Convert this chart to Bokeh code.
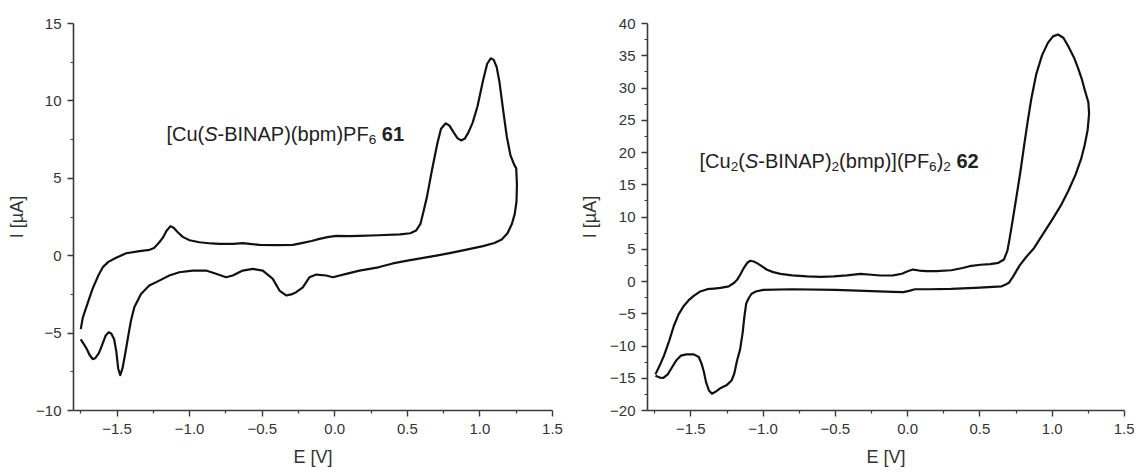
from bokeh.plotting import figure
from bokeh.layouts import row
from bokeh.models import Range1d, FixedTicker, ColumnDataSource
from bokeh.core.properties import value
from bokeh.embed import file_html
from bokeh.resources import INLINE

# ---------------- data ----------------
E61 = [-1.750, -1.736, -1.700, -1.667, -1.630, -1.598, -1.560, -1.510, -1.437, -1.345,
       -1.276, -1.245, -1.210, -1.185, -1.160, -1.132, -1.110, -1.080, -1.045, -1.000,
       -0.933, -0.850, -0.795, -0.700, -0.634, -0.570, -0.519, -0.400, -0.289, -0.220,
       -0.160, -0.105, -0.050, 0.009, 0.100, 0.170, 0.300, 0.450, 0.520, 0.560,
       0.590, 0.610, 0.635, 0.669, 0.707, 0.732, 0.765, 0.790, 0.820, 0.845,
       0.870, 0.895, 0.920, 0.950, 0.983, 1.021, 1.050, 1.075, 1.095, 1.115,
       1.135, 1.160, 1.185, 1.210, 1.235, 1.250,
       1.255, 1.252, 1.240, 1.220, 1.190, 1.150, 1.100, 1.021, 0.900, 0.800,
       0.700, 0.600, 0.500, 0.400, 0.300, 0.170, 0.079, -0.013, -0.059, -0.128,
       -0.174, -0.220, -0.266, -0.300, -0.335, -0.381, -0.427, -0.496, -0.565, -0.634,
       -0.703, -0.749, -0.818, -0.887, -0.979, -1.071, -1.140, -1.209, -1.278, -1.335,
       -1.381, -1.404, -1.425, -1.445, -1.463, -1.478, -1.492, -1.505, -1.520, -1.540,
       -1.558, -1.578, -1.600, -1.625, -1.650, -1.668, -1.690, -1.710, -1.730, -1.750]
I61 = [-4.74, -4.00, -3.00, -2.10, -1.30, -0.74, -0.40, -0.15, 0.16, 0.29,
       0.38, 0.50, 0.85, 1.15, 1.60, 1.91, 1.80, 1.50, 1.20, 1.00,
       0.87, 0.79, 0.76, 0.77, 0.81, 0.75, 0.70, 0.68, 0.70, 0.83,
       0.95, 1.09, 1.20, 1.28, 1.27, 1.28, 1.32, 1.38, 1.45, 1.62,
       2.05, 2.80, 3.80, 5.50, 7.26, 8.20, 8.55, 8.40, 7.95, 7.60,
       7.45, 7.55, 7.95, 8.60, 9.64, 11.30, 12.40, 12.75, 12.65, 12.20,
       11.20, 9.40, 7.70, 6.50, 5.90, 5.64,
       4.60, 3.50, 2.70, 2.05, 1.45, 1.05, 0.82, 0.62, 0.38, 0.18,
       0.00, -0.16, -0.32, -0.50, -0.75, -0.96, -1.17, -1.39, -1.28, -1.22,
       -1.39, -2.04, -2.36, -2.50, -2.57, -2.25, -1.50, -0.96, -0.85, -0.96,
       -1.28, -1.39, -1.17, -0.96, -0.96, -1.07, -1.28, -1.61, -1.93, -2.47,
       -3.33, -4.19, -5.30, -6.40, -7.30, -7.72, -7.30, -6.20, -5.40, -5.02,
       -4.95, -5.15, -5.70, -6.30, -6.62, -6.68, -6.40, -6.00, -5.70, -5.40]

E62 = [-1.745, -1.715, -1.687, -1.650, -1.618, -1.585, -1.549, -1.515, -1.480, -1.440,
       -1.387, -1.340, -1.295, -1.238, -1.200, -1.180, -1.155, -1.134, -1.110, -1.088,
       -1.065, -1.042, -1.005, -0.973, -0.930, -0.880, -0.800, -0.696, -0.600, -0.512,
       -0.420, -0.327, -0.250, -0.189, -0.100, -0.040, 0.000, 0.036, 0.080, 0.128,
       0.200, 0.302, 0.380, 0.428, 0.503, 0.570, 0.628, 0.666, 0.690, 0.704,
       0.730, 0.755, 0.779, 0.805, 0.830, 0.855, 0.890, 0.930, 0.970, 1.005,
       1.040, 1.077, 1.110, 1.153, 1.180, 1.203, 1.225, 1.250,
       1.255, 1.245, 1.225, 1.200, 1.160, 1.110, 1.060, 1.000, 0.940, 0.875,
       0.820, 0.775, 0.730, 0.700, 0.675, 0.650, 0.500, 0.300, 0.150, 0.050,
       0.010, -0.030, -0.100, -0.300, -0.500, -0.800, -1.000, -1.050, -1.080, -1.100,
       -1.117, -1.130, -1.142, -1.160, -1.180, -1.200, -1.217, -1.254, -1.300, -1.330,
       -1.354, -1.375, -1.395, -1.410, -1.425, -1.445, -1.480, -1.530, -1.570, -1.600,
       -1.630, -1.660, -1.690, -1.715, -1.745]
I62 = [-14.4, -13.0, -11.56, -9.2, -6.9, -5.1, -3.79, -2.9, -2.23, -1.6,
       -1.19, -1.1, -1.0, -0.75, -0.2, 0.26, 1.2, 2.08, 2.9, 3.22,
       3.1, 2.85, 2.3, 1.82, 1.45, 1.19, 0.95, 0.78, 0.72, 0.78,
       0.95, 1.19, 1.05, 0.93, 0.95, 1.2, 1.6, 1.85, 1.7, 1.6,
       1.6, 1.74, 2.1, 2.37, 2.6, 2.7, 2.9, 3.4, 4.8, 6.5,
       10.0, 13.5, 16.9, 21.0, 24.8, 28.3, 32.2, 35.1, 37.0, 38.0,
       38.3, 37.8, 36.5, 34.6, 33.0, 31.5, 29.7, 27.8,
       26.0, 23.5, 21.2, 19.0, 16.5, 14.0, 11.8, 9.6, 7.5, 5.2,
       3.8, 2.5, 0.8, -0.2, -0.5, -0.75, -0.95, -1.15, -1.2, -1.2,
       -1.45, -1.65, -1.62, -1.45, -1.3, -1.2, -1.3, -1.55, -1.9, -2.6,
       -3.4, -5.5, -8.0, -10.6, -12.2, -14.3, -15.3, -16.1, -16.6, -17.1,
       -17.4, -16.9, -15.6, -14.0, -12.8, -11.7, -11.3, -11.3, -11.5, -12.2,
       -13.3, -14.4, -14.95, -14.9, -14.6]

x_ticks = [-1.5, -1.0, -0.5, 0.0, 0.5, 1.0, 1.5]
x_tick_labels = ["\u22121.5", "\u22121.0", "\u22120.5", "0.0", "0.5", "1.0", "1.5"]
x_minor = [-1.75, -1.25, -0.75, -0.25, 0.25, 0.75, 1.25]

y61_ticks = [-10, -5, 0, 5, 10, 15]
y61_labels = ["\u221210", "\u22125", "0", "5", "10", "15"]
y61_minor = [-7.5, -2.5, 2.5, 7.5, 12.5]

y62_ticks = [-20, -15, -10, -5, 0, 5, 10, 15, 20, 25, 30, 35, 40]
y62_labels = ["\u221220", "\u221215", "\u221210", "\u22125", "0", "5", "10", "15",
              "20", "25", "30", "35", "40"]
y62_minor = [-17.5, -12.5, -7.5, -2.5, 2.5, 7.5, 12.5, 17.5, 22.5, 27.5, 32.5, 37.5]

label61 = [("[Cu(", "n"), ("S", "i"), ("-BINAP)(bpm)PF", "n"), ("6", "s"), (" ", "n"), ("61", "b")]
label62 = [("[Cu", "n"), ("2", "s"), ("(", "n"), ("S", "i"), ("-BINAP)", "n"), ("2", "s"),
           ("(bmp)](PF", "n"), ("6", "s"), (")", "n"), ("2", "s"), (" ", "n"), ("62", "b")]

FONT = "Liberation Sans"
INK = "#111111"
AX = "#3a3a3a"

# Arial / Liberation Sans advance widths (per 1000 em)
ADV = {'[': 278, ']': 278, '(': 333, ')': 333, '-': 333, ' ': 278, 'C': 722, 'u': 556,
       'S': 667, 'B': 667, 'I': 278, 'N': 722, 'A': 667, 'P': 667, 'b': 556, 'p': 556,
       'm': 833, 'F': 611}
for d in "0123456789":
    ADV[d] = 556


def make_fig(yr, yt, yl, ym, left, frame_w, right, label_standoff):
    p = figure(width=left + frame_w + right, height=472,
               x_range=Range1d(-1.8, 1.5), y_range=Range1d(*yr),
               output_backend="svg", toolbar_location=None,
               min_border_left=left, min_border_right=right,
               min_border_top=23, min_border_bottom=62)
    p.outline_line_color = None
    p.grid.visible = False
    p.background_fill_color = "white"
    p.border_fill_color = "white"
    p.xaxis.ticker = FixedTicker(ticks=x_ticks, minor_ticks=x_minor)
    p.yaxis.ticker = FixedTicker(ticks=yt, minor_ticks=ym)
    p.xaxis.major_label_overrides = {t: s for t, s in zip(x_ticks, x_tick_labels)}
    p.yaxis.major_label_overrides = {t: s for t, s in zip(yt, yl)}
    for ax in (p.xaxis[0], p.yaxis[0]):
        ax.axis_line_color = AX
        ax.axis_line_width = 1.6
        ax.major_tick_line_color = AX
        ax.minor_tick_line_color = AX
        ax.major_tick_line_width = 1.4
        ax.minor_tick_line_width = 1.2
        ax.major_tick_in = 0
        ax.major_tick_out = 6
        ax.minor_tick_in = 0
        ax.minor_tick_out = 3
        ax.major_label_text_font = FONT
        ax.major_label_text_font_size = "15px"
        ax.major_label_text_color = "#333333"
        ax.axis_label_text_font = FONT
        ax.axis_label_text_font_size = "18px"
        ax.axis_label_text_font_style = "normal"
        ax.axis_label_text_color = "#333333"
    p.xaxis.axis_label = "E [V]"
    p.yaxis.axis_label = "I [\u00b5A]"
    p.xaxis.major_label_standoff = 7
    p.yaxis.major_label_standoff = 6
    p.xaxis.axis_label_standoff = 10
    p.yaxis.axis_label_standoff = label_standoff
    return p


def add_label(p, runs, x, y, fs):
    groups = {}
    off = 0.0
    for txt, st in runs:
        size = fs * 0.68 if st == "s" else fs
        yoff = fs * 0.28 if st == "s" else 0.0
        groups.setdefault(st, {"x": [], "y": [], "t": [], "xo": [], "yo": []})
        g = groups[st]
        g["x"].append(x); g["y"].append(y); g["t"].append(txt)
        g["xo"].append(off); g["yo"].append(yoff)
        off += sum(ADV[c] for c in txt) * size / 1000.0
    styles = {"n": "normal", "i": "italic", "b": "bold", "s": "normal"}
    for st, g in groups.items():
        size = fs * 0.68 if st == "s" else fs
        src = ColumnDataSource(dict(x=g["x"], y=g["y"], t=g["t"], xo=g["xo"], yo=g["yo"]))
        p.text(x="x", y="y", text="t", x_offset="xo", y_offset="yo", source=src,
               text_font=value(FONT), text_font_size=value(f"{size:.1f}px"),
               text_font_style=styles[st], text_color="#222222",
               text_align="left", text_baseline="alphabetic")


p1 = make_fig((-10, 15), y61_ticks, y61_labels, y61_minor, 73, 479, 18, 6)
p1.line(E61, I61, line_color=INK, line_width=2.2, line_join="round")
add_label(p1, label61, -1.16, 7.85, 20)

p2 = make_fig((-20, 40), y62_ticks, y62_labels, y62_minor, 77, 477, 10, 7)
p2.line(E62, I62, line_color=INK, line_width=2.2, line_join="round")
add_label(p2, label62, -1.44, 18.7, 20)

layout = row(p1, p2)
open("out.html", "w").write(file_html(layout, INLINE))
